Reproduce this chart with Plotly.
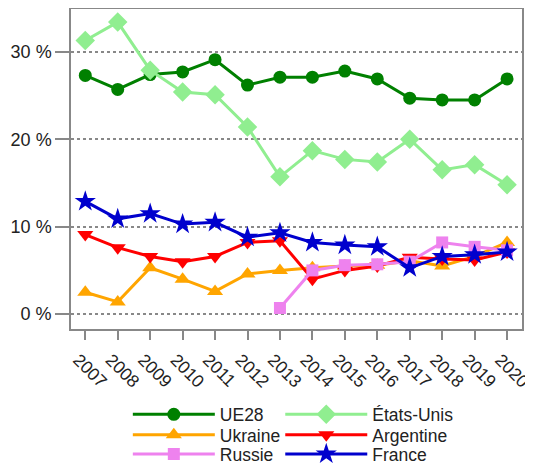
import plotly.graph_objects as go

years = list(range(2007, 2021))
ue28 = [27.3, 25.7, 27.4, 27.7, 29.1, 26.2, 27.1, 27.1, 27.8, 26.9, 24.7, 24.5, 24.5, 26.9]
etats_unis = [31.3, 33.4, 27.9, 25.4, 25.1, 21.4, 15.7, 18.7, 17.7, 17.4, 20.0, 16.5, 17.1, 14.8]
ukraine = [2.5, 1.4, 5.3, 4.0, 2.6, 4.6, 5.0, 5.3, 5.5, 5.6, 6.1, 5.5, 6.6, 8.2]
argentine = [9.1, 7.6, 6.6, 6.0, 6.6, 8.2, 8.4, 4.0, 5.0, 5.5, 6.5, 6.3, 6.2, 7.1]
russie_years = list(range(2013, 2021))
russie = [0.7, 5.0, 5.6, 5.7, 6.0, 8.2, 7.7, 7.3]
france = [12.9, 10.9, 11.5, 10.3, 10.5, 8.8, 9.3, 8.2, 7.9, 7.7, 5.3, 6.6, 6.8, 7.1]

y_ticks = [0, 10, 20, 30]
y_tick_labels = ["0 %", "10 %", "20 %", "30 %"]

series = [
    ("UE28", years, ue28, "#008000", "circle", 13),
    ("États-Unis", years, etats_unis, "#90EE90", "diamond", 15),
    ("Ukraine", years, ukraine, "#FFA500", "triangle-up", 14),
    ("Argentine", years, argentine, "#FF0000", "triangle-down", 14),
    ("Russie", russie_years, russie, "#EE82EE", "square", 12),
    ("France", years, france, "#0000CD", "star", 16),
]

# legend grid: 2 columns x 3 rows (paper coords)
legend_cols = [0.126, 0.464]
legend_rows = [-0.267, -0.331, -0.391]

fig = go.Figure()
legend_layouts = {}
for i, (name, xs, ys, color, sym, size) in enumerate(series):
    key = "legend" if i == 0 else f"legend{i + 1}"
    fig.add_trace(go.Scatter(
        x=xs, y=ys, name=name, mode="lines+markers",
        line=dict(color=color, width=3),
        marker=dict(symbol=sym, size=size, color=color),
        legend=key,
    ))
    legend_layouts[key] = dict(
        x=legend_cols[i % 2], xanchor="left",
        y=legend_rows[i // 2], yanchor="middle",
        itemwidth=82, font=dict(size=17.5, color="#222222"),
        bgcolor="rgba(0,0,0,0)",
    )

axis_color = "#888888"
fig.update_layout(
    width=525, height=455,
    margin=dict(l=63, r=11, t=1, b=134, autoexpand=False),
    plot_bgcolor="white", paper_bgcolor="white",
    font=dict(family="Liberation Sans, Arial, sans-serif", size=18, color="#222222"),
    showlegend=True,
    **legend_layouts,
    xaxis=dict(
        range=[2006.56, 2020.46], tickmode="array", tickvals=years,
        ticktext=[str(y) for y in years], tickangle=45,
        ticklabeloverflow="allow", ticklabelshift=-7, ticklabelstandoff=3,
        tickfont=dict(size=17.5),
        ticks="outside", ticklen=9, tickcolor=axis_color, tickwidth=1.5,
        showgrid=False, zeroline=False,
        showline=True, linecolor=axis_color, linewidth=1.5, mirror=True,
    ),
    yaxis=dict(
        range=[-1.7, 34.9], tickmode="array", tickvals=y_ticks,
        ticktext=y_tick_labels,
        ticks="outside", ticklen=14, tickcolor=axis_color, tickwidth=1.5,
        showgrid=True, gridcolor=axis_color, griddash="dot", gridwidth=2,
        zeroline=False,
        showline=True, linecolor=axis_color, linewidth=1.5, mirror=True,
    ),
)

fig.write_html("out.html")
